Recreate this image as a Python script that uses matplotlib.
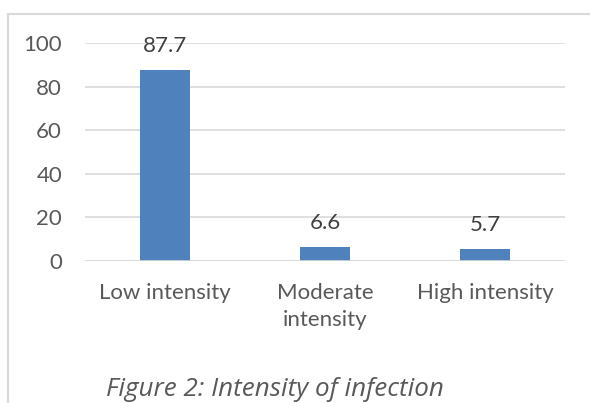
import matplotlib.pyplot as plt
from matplotlib.lines import Line2D

categories = ['Low intensity', 'Moderate\nintensity', 'High intensity']
values = [87.7, 6.6, 5.7]
y_ticks = [0, 20, 40, 60, 80, 100]
caption = 'Figure 2: Intensity of infection'

W, H = 590, 403
plt.rcParams['font.family'] = ['Lato', 'DejaVu Sans']
fig = plt.figure(figsize=(W / 100, H / 100), dpi=100)

# plot area in pixels: x 85..565, y 43 (100) .. 261 (0)
ax = fig.add_axes([85 / W, 1 - 261 / H, 480 / W, 218 / H])
x = range(len(categories))
ax.bar(x, values, width=50 / 160, color='#4F81BD', zorder=3)
ax.set_xlim(-0.5, len(categories) - 0.5)
ax.set_ylim(0, 100)
ax.set_yticks(y_ticks)
ax.set_yticklabels([str(t) for t in y_ticks], fontsize=16, color='#595959')
ax.set_xticks(list(x))
ax.set_xticklabels(categories, fontsize=16, color='#595959', linespacing=1.45)
ax.tick_params(axis='both', length=0)
ax.tick_params(axis='y', pad=16.5)
ax.tick_params(axis='x', pad=15.5)
ax.yaxis.grid(True, color='#D9D9D9', linewidth=1.2, zorder=0)
ax.set_axisbelow(True)
for s in ax.spines.values():
    s.set_visible(False)
ax.axhline(0, color='#D9D9D9', linewidth=1.2, zorder=4)

for xi, v in zip(x, values):
    ax.annotate(f'{v}', (xi, v), xytext=(0, 10), textcoords='offset points',
                ha='center', va='bottom', fontsize=16, color='#404040')

# chart frame (extends past right and bottom edges)
fig.add_artist(Line2D([8 / W, 1], [1 - 14 / H, 1 - 14 / H], color='#D9D9D9', linewidth=1.5))
fig.add_artist(Line2D([8 / W, 8 / W], [1 - 14 / H, 0], color='#D9D9D9', linewidth=1.5))

fig.text(275 / W, 1 - 390 / H, caption, ha='center', va='center',
         fontsize=18.7, style='italic', color='#595959', family=['Open Sans', 'DejaVu Sans'])

fig.savefig('out.png', dpi=100)
